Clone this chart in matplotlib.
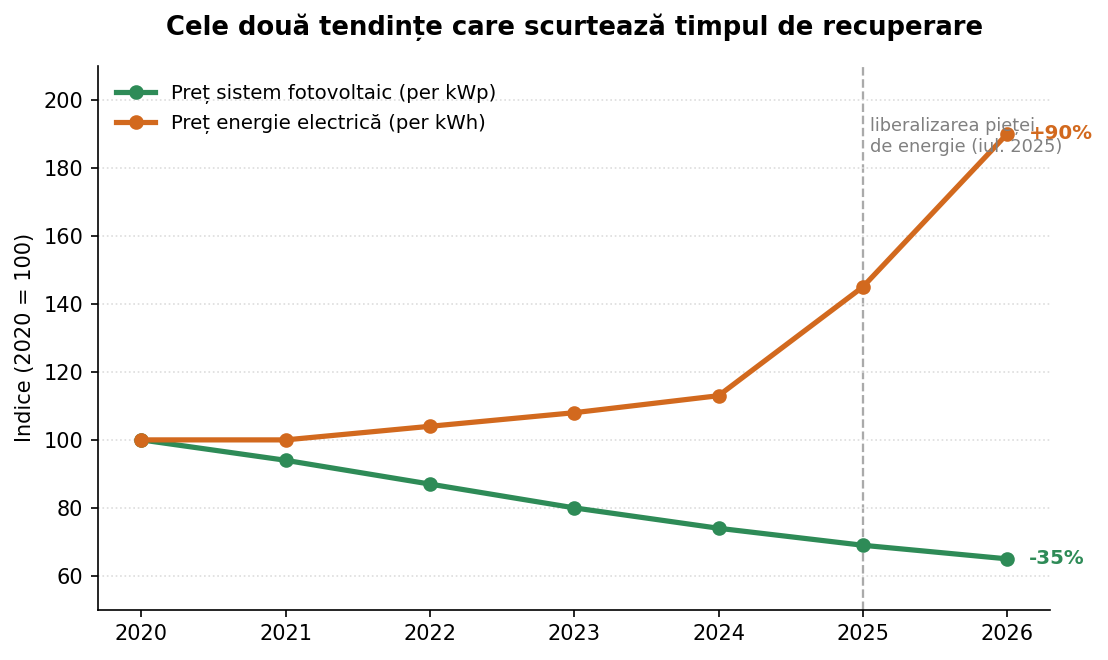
import matplotlib.pyplot as plt

years = [2020, 2021, 2022, 2023, 2024, 2025, 2026]
pv_index = [100, 94, 87, 80, 74, 69, 65]
power_index = [100, 100, 104, 108, 113, 145, 190]

C_PV = "#2e8b57"
C_POWER = "#d2691e"

fig, ax = plt.subplots(figsize=(7.3867, 4.4), dpi=150)

ax.plot(years, pv_index, color=C_PV, lw=2.5, marker="o", markersize=6,
        label="Preț sistem fotovoltaic (per kWp)", zorder=3)
ax.plot(years, power_index, color=C_POWER, lw=2.5, marker="o", markersize=6,
        label="Preț energie electrică (per kWh)", zorder=3)

ax.axvline(2025, color="#aaaaaa", ls="--", lw=1.1, zorder=1)
ax.text(2025.05, 195, "liberalizarea pieței\nde energie (iul. 2025)",
        fontsize=8.5, color="gray", va="top", ha="left")

ax.text(2026.15, pv_index[-1], f"-{100 - pv_index[-1]}%", color=C_PV,
        fontsize=9.5, fontweight="bold", va="center", ha="left")
ax.text(2026.15, power_index[-1], f"+{power_index[-1] - 100}%", color=C_POWER,
        fontsize=9.5, fontweight="bold", va="center", ha="left")

ax.set_xlim(2019.7, 2026.3)
ax.set_ylim(50, 210)
ax.set_xticks(years)
ax.set_yticks(range(60, 201, 20))
ax.tick_params(labelsize=10)
ax.set_ylabel("Indice (2020 = 100)", fontsize=10)
ax.grid(axis="y", ls=":", color="#dddddd", lw=0.8)
ax.spines["top"].set_visible(False)
ax.spines["right"].set_visible(False)

ax.legend(loc="upper left", frameon=False, fontsize=9.5)
ax.set_title("Cele două tendințe care scurtează timpul de recuperare",
             fontsize=12.4, fontweight="bold", pad=15)

plt.subplots_adjust(left=0.0885, right=0.948, top=0.9, bottom=0.076)
plt.savefig("out.png", dpi=150)
